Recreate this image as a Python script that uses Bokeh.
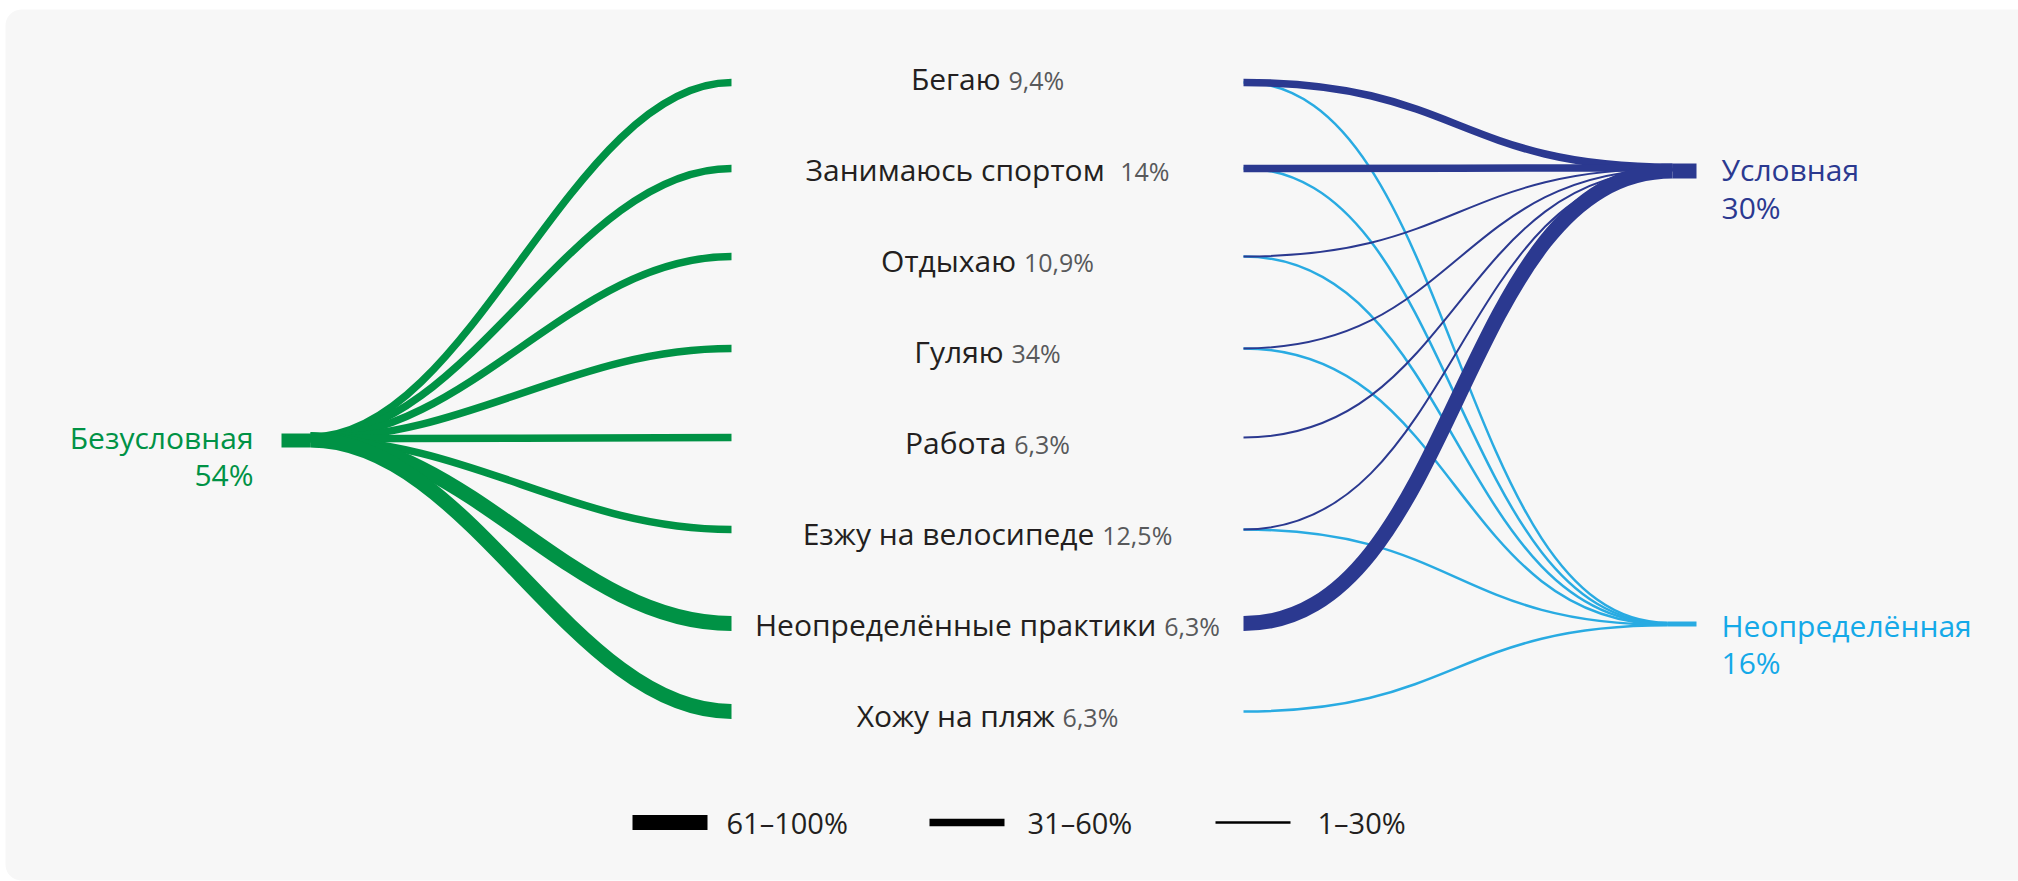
import glob
import subprocess
import numpy as np
from bokeh.plotting import figure
from bokeh.models import Range1d, ColumnDataSource
from bokeh.embed import file_html
from bokeh.resources import INLINE
from bokeh.core.properties import value

# ---------------- data ----------------
activities = ["Бегаю", "Занимаюсь спортом ", "Отдыхаю", "Гуляю", "Работа",
              "Езжу на велосипеде", "Неопределённые практики", "Хожу на пляж"]
activity_share = ["9,4%", "14%", "10,9%", "34%", "6,3%", "12,5%", "6,3%", "6,3%"]
source_label = "Безусловная"
source_share = "54%"
target_labels = ["Условная", "Неопределённая"]
target_share = ["30%", "16%"]
# flow strength band: 0 = no flow, 1 = 1–30%, 2 = 31–60%, 3 = 61–100%
band_unconditional = [2, 2, 2, 2, 2, 2, 3, 3]
band_conditional = [2, 2, 1, 1, 1, 1, 3, 0]
band_undefined = [1, 1, 1, 1, 0, 1, 0, 1]
legend_bands = [3, 2, 1]
legend_labels = ["61–100%", "31–60%", "1–30%"]

# ---------------- style / layout ----------------
GREEN = "#009245"
NAVY = "#2b3990"
SKY = "#29abe2"
SKY_TEXT = "#14a9e8"
DARK = "#231f20"
GREY = "#58595b"
BG = "#f7f7f7"
FONT = "Open Sans"
BAND_W = {1: 2.5, 2: 7.5, 3: 15.0}

W, H = 2018, 881
row_y = [82, 168, 256, 348, 437, 529, 623, 711]   # line ends of each activity row
label_c0, label_step = 78, 91                      # text centres of the rows
mid_left, mid_right, mid_center = 731, 1243, 987
src_node = (281, 310, 433, 447)
tgt_nodes = [(1672, 1696, 163, 178), (1667, 1696, 621, 626)]
NAME_SIZE, PCT_SIZE, BIG_SIZE, LEG_SIZE = 30, 25, 30, 29


def font_path():
    try:
        out = subprocess.run(["fc-match", "-f", "%{file}", FONT], capture_output=True,
                             text=True, timeout=5).stdout.strip()
        if out and "OpenSans" in out.replace(" ", ""):
            return out
    except Exception:
        pass
    files = sorted(glob.glob("/usr/share/fonts/**/OpenSans*.ttf", recursive=True))
    for f in files:
        if "Regular" in f:
            return f
    for f in files:
        if not any(s in f for s in ("Bold", "Italic", "Light", "Semi", "Extra", "Medium")):
            return f
    return files[0] if files else None


FP = font_path()
_cache = {}


def text_w(s, size):
    try:
        from PIL import ImageFont
        if FP:
            if size not in _cache:
                _cache[size] = ImageFont.truetype(FP, size)
            return _cache[size].getlength(s)
    except Exception:
        pass
    return len(s) * 0.56 * size


p = figure(width=W, height=H, output_backend="svg", toolbar_location=None,
           x_range=Range1d(0, W), y_range=Range1d(H, 0),
           background_fill_color="#ffffff", border_fill_color="#ffffff", min_border=0,
           outline_line_color=None)
p.axis.visible = False
p.grid.visible = False

# panel with rounded left corners
pl, pt, pr, pb, rad = 5, 9, W + 40, 880, 16
a1 = np.linspace(np.pi, 1.5 * np.pi, 12)
a2 = np.linspace(0.5 * np.pi, np.pi, 12)
px_ = [pr, pr] + list(pl + rad + rad * np.cos(a2)) + list(pl + rad + rad * np.cos(a1))
py_ = [pt, pb] + list(pb - rad + rad * np.sin(a2)) + list(pt + rad + rad * np.sin(a1))
p.patch(px_, py_, fill_color=BG, line_color=None)


def spread(top, bottom, widths):
    n = len(widths)
    if n == 1:
        return [(top + bottom) / 2]
    a = top + widths[0] / 2
    b = bottom - widths[-1] / 2
    if b < a:
        a = b = (top + bottom) / 2
    return list(np.linspace(a, b, n))


def bez_source(x0, ys0, x1, ys1, widths, k):
    dx = np.array(x1, float) - np.array(x0, float)
    return ColumnDataSource(dict(
        x0=x0, y0=ys0, x1=x1, y1=ys1,
        cx0=list(np.array(x0) + k * dx), cy0=ys0,
        cx1=list(np.array(x1) - k * dx), cy1=ys1,
        w=widths))


# ---- left flows (green) ----
idx = [i for i, b in enumerate(band_unconditional) if b > 0]
wl = [BAND_W[band_unconditional[i]] for i in idx]
ys = spread(src_node[2], src_node[3], wl)
src = bez_source([src_node[1]] * len(idx), ys, [mid_left] * len(idx),
                 [row_y[i] for i in idx], wl, 0.38)
p.bezier(x0="x0", y0="y0", x1="x1", y1="y1", cx0="cx0", cy0="cy0", cx1="cx1", cy1="cy1",
         source=src, line_color=GREEN, line_width="w", line_cap="butt")
p.quad(left=[src_node[0]], right=[src_node[1]], top=[src_node[2]], bottom=[src_node[3]],
       fill_color=GREEN, line_color=None)

# ---- right flows: undefined (sky) drawn first, then conditional (navy) ----
for bands, color, node in ((band_undefined, SKY, tgt_nodes[1]),
                           (band_conditional, NAVY, tgt_nodes[0])):
    idx = [i for i, b in enumerate(bands) if b > 0]
    wr = [BAND_W[bands[i]] if color == SKY else (2.0 if bands[i] == 1 else BAND_W[bands[i]])
          for i in idx]
    ye = spread(node[2], node[3], wr)
    s = bez_source([mid_right] * len(idx), [row_y[i] for i in idx],
                   [node[0]] * len(idx), ye, wr, 0.5)
    p.bezier(x0="x0", y0="y0", x1="x1", y1="y1", cx0="cx0", cy0="cy0", cx1="cx1", cy1="cy1",
             source=s, line_color=color, line_width="w", line_cap="butt")
    p.quad(left=[node[0]], right=[node[1]], top=[node[2]], bottom=[node[3]],
           fill_color=color, line_color=None)

# ---- middle labels ----
nx, px, ly = [], [], []
for i, (n, s) in enumerate(zip(activities, activity_share)):
    wn = text_w(n + " ", NAME_SIZE)
    ws = text_w(s, PCT_SIZE)
    x0 = mid_center - (wn + ws) / 2
    nx.append(x0)
    px.append(x0 + wn)
    ly.append(label_c0 + label_step * i)
p.text(x=nx, y=ly, text=[a.rstrip() for a in activities], text_font=value(FONT),
       text_font_size=f"{NAME_SIZE}px", text_color=DARK, text_align="left",
       text_baseline="middle")
p.text(x=px, y=[v + 1 for v in ly], text=activity_share, text_font=value(FONT),
       text_font_size=f"{PCT_SIZE}px", text_color=GREY, text_align="left",
       text_baseline="middle")

# ---- node labels ----
p.text(x=[253, 253], y=[437, 474], text=[source_label, source_share], text_font=value(FONT),
       text_font_size=f"{BIG_SIZE}px", text_color=GREEN, text_align="right",
       text_baseline="middle")
p.text(x=[1721, 1721], y=[169, 207], text=[target_labels[0], target_share[0]],
       text_font=value(FONT), text_font_size=f"{BIG_SIZE}px", text_color=NAVY,
       text_align="left", text_baseline="middle")
p.text(x=[1721, 1721], y=[625, 662], text=[target_labels[1], target_share[1]],
       text_font=value(FONT), text_font_size=f"{BIG_SIZE}px", text_color=SKY_TEXT,
       text_align="left", text_baseline="middle")

# ---- legend ----
leg_x = [632, 929, 1215]
leg_gap = [19, 23, 27]
leg_len, leg_y = 75, 822
p.segment(x0=leg_x, y0=[leg_y] * 3, x1=[x + leg_len for x in leg_x], y1=[leg_y] * 3,
          line_color="#000000", line_width=[BAND_W[b] for b in legend_bands], line_cap="butt")
p.text(x=[x + leg_len + g for x, g in zip(leg_x, leg_gap)], y=[leg_y] * 3, text=legend_labels,
       text_font=value(FONT), text_font_size=f"{LEG_SIZE}px", text_color=DARK,
       text_align="left", text_baseline="middle")

open("out.html", "w").write(file_html(p, INLINE))
